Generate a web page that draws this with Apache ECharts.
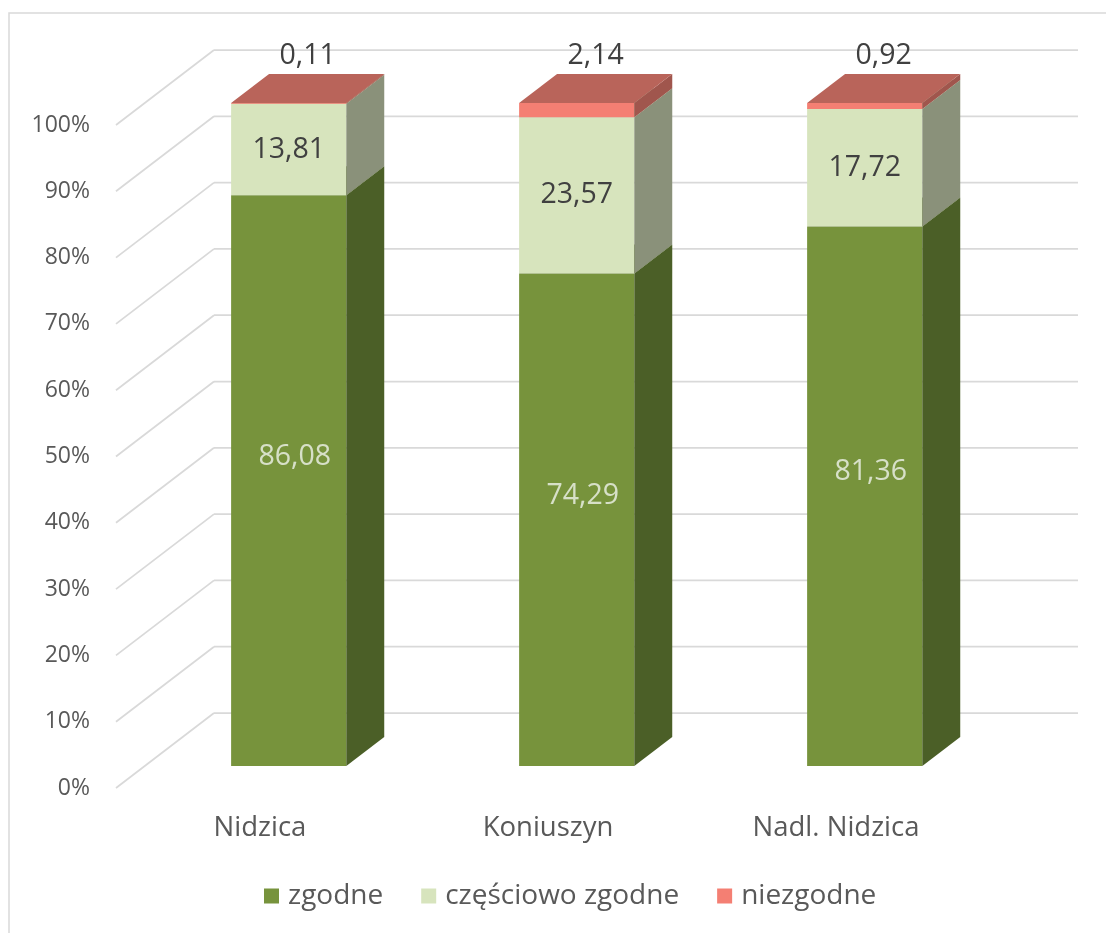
<!DOCTYPE html>
<html>
<head>
<meta charset="utf-8">
<script src="https://cdn.jsdelivr.net/npm/echarts@6/dist/echarts.min.js"></script>
<style>
html, body { margin: 0; padding: 0; background: #fff; }
#chart { width: 1106px; height: 933px; }
</style>
</head>
<body>
<div id="chart"></div>
<script>
// dane
var categories = ['Nidzica', 'Koniuszyn', 'Nadl. Nidzica'];
var seriesNames = ['zgodne', 'częściowo zgodne', 'niezgodne'];
var zgodne = [86.08, 74.29, 81.36];
var czesciowo = [13.81, 23.57, 17.72];
var niezgodne = [0.11, 2.14, 0.92];
var yTicks = [0, 10, 20, 30, 40, 50, 60, 70, 80, 90, 100];

var values = [zgodne, czesciowo, niezgodne];

// 3d look
var DX = 98, DY = -75;      // full depth of the wall
var F1 = 0.293, F2 = 0.68;  // bar front / back as part of depth
var BAR_RATIO = 0.4;
var FONT = '"Open Sans", sans-serif';

var faces = [
	{ front: '#77933C', side: '#4B5F27', top: '#5E7731', label: '#D7E0C8' },
	{ front: '#D7E4BD', side: '#8A917A', top: '#B4BE9E', label: '#404040' },
	{ front: '#F47F73', side: '#A0564D', top: '#B9645A', label: '#404040' }
];

function fmt(v) {
	return v.toFixed(2).replace('.', ',');
}

function wallItem(params, api) {
	var cs = params.coordSys;
	var y = api.coord([0, api.value(1)])[1];
	var x0 = cs.x, x1 = cs.x + cs.width;
	var st = { stroke: '#D9D9D9', lineWidth: 1.75 };
	return {
		type: 'group',
		children: [
			{ type: 'line', shape: { x1: x0, y1: y, x2: x0 + DX, y2: y + DY }, style: st },
			{ type: 'line', shape: { x1: x0 + DX, y1: y + DY, x2: x1 + DX, y2: y + DY }, style: st }
		]
	};
}

function barItem(s) {
	return function(params, api) {
		var i = api.value(0), lo = api.value(1), hi = api.value(2), v = api.value(3);
		var pLo = api.coord([i, lo]), pHi = api.coord([i, hi]);
		var w = api.size([1, 0])[0] * BAR_RATIO;
		var xl = pLo[0] - w / 2 + F1 * DX, xr = xl + w;
		var yb = pLo[1] + F1 * DY, yt = pHi[1] + F1 * DY;
		var bx = (F2 - F1) * DX, by = (F2 - F1) * DY;
		var c = faces[s];
		var lx, ly;
		if (s == 0) { lx = xl + w / 2 + 6; ly = (yb + yt) / 2 - 24; }
		else if (s == 1) { lx = xl + w / 2; ly = (yb + yt) / 2; }
		else { lx = xl + w / 2 + bx / 2; ly = yt + by - 18; }
		return {
			type: 'group',
			children: [
				{ type: 'rect', shape: { x: xl, y: yt, width: w, height: yb - yt }, style: { fill: c.front } },
				{ type: 'polygon', shape: { points: [[xr, yt], [xr + bx, yt + by], [xr + bx, yb + by], [xr, yb]] }, style: { fill: c.side } },
				{ type: 'polygon', shape: { points: [[xl, yt], [xr, yt], [xr + bx, yt + by], [xl + bx, yt + by]] }, style: { fill: c.top } },
				{ type: 'text', style: { text: fmt(v), x: lx, y: ly, align: 'center', verticalAlign: 'middle', fill: c.label, fontSize: 28.5, fontFamily: FONT } }
			]
		};
	};
}

var series = [{
	type: 'custom',
	name: 'sciana',
	silent: true,
	z: 1,
	renderItem: wallItem,
	encode: { x: 0, y: 1 },
	data: yTicks.map(function(t) { return [0, t]; })
}];

for (var s = 0; s < values.length; s++) {
	var data = [];
	for (var i = 0; i < categories.length; i++) {
		var base = 0;
		for (var k = 0; k < s; k++) base += values[k][i];
		data.push([i, base, base + values[s][i], values[s][i]]);
	}
	series.push({
		type: 'custom',
		name: seriesNames[s],
		z: 2,
		itemStyle: { color: faces[s].front },
		renderItem: barItem(s),
		encode: { x: 0, y: 2 },
		data: data
	});
}

var myChart = echarts.init(document.getElementById('chart'));
myChart.setOption({
	animation: false,
	graphic: [{
		type: 'rect',
		silent: true,
		shape: { x: 9, y: 13, width: 1200, height: 1000 },
		style: { fill: 'none', stroke: '#D9D9D9', lineWidth: 1.5 }
	}],
	legend: {
		data: seriesNames,
		left: 259,
		top: 877,
		icon: 'rect',
		itemWidth: 15,
		itemHeight: 15,
		itemGap: 38,
		textStyle: { fontSize: 28, color: '#595959', fontFamily: FONT, padding: [0, 0, 0, 4] }
	},
	grid: { left: 116, right: 126, top: 125, bottom: 145 },
	xAxis: {
		type: 'category',
		data: categories,
		axisLine: { show: false },
		axisTick: { show: false },
		axisLabel: { fontSize: 27.5, color: '#595959', fontFamily: FONT, margin: 26 }
	},
	yAxis: {
		type: 'value',
		min: 0,
		max: 100,
		interval: 10,
		axisLine: { show: false },
		axisTick: { show: false },
		splitLine: { show: false },
		axisLabel: { formatter: '{value}%', fontSize: 23, color: '#595959', fontFamily: FONT, margin: 26 }
	},
	series: series
});
</script>
</body>
</html>
